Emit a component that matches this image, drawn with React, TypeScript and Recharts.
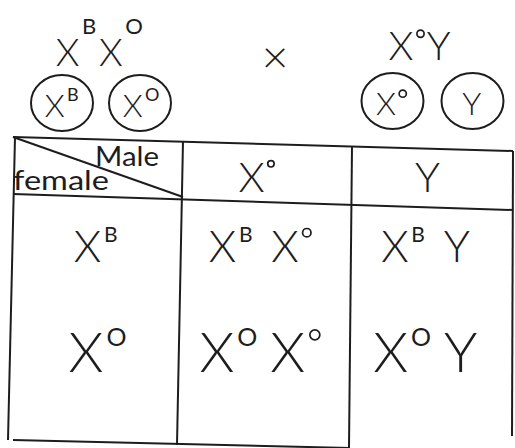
import React from 'react';
import { ScatterChart, Scatter, XAxis, YAxis, ReferenceLine } from 'recharts';

// genotypes: "X^B" = X with superscript B, "^o" = small degree circle
const femaleParent = 'X^B X^O';
const crossSign = '×';
const maleParent = 'X^oY';
const femaleGametes = ['X^B', 'X^O'];
const maleGametes = ['X^o', 'Y'];
const cornerLabels = ['Male', 'female'];
const offspring = [
  ['X^B X^o', 'X^B Y'],
  ['X^O X^o', 'X^O Y'],
];

const W = 515;
const H = 448;
const INK = '#1d1d1d';
const FONT = 'Lato, "DejaVu Sans", sans-serif';

// layout, in the diagram's own space (same as pixels)
const COL_EDGES = [13, 183, 352, 513];
const ROW_Y = { parents: 52, gametes: 103, header: 177, body: [246, 352] };
const colMid = (i: number) => (COL_EDGES[i] + COL_EDGES[i + 1]) / 2;

const TABLE_LINES: [number, number][][] = [
  [[13, 137], [513, 151]],
  [[13, 194], [513, 210]],
  [[13, 440], [350, 448]],
  [[15, 137], [8, 440]],
  [[183, 141], [177, 445]],
  [[352, 146], [349, 448]],
  [[513, 151], [512, 436]],
  [[13, 137], [183, 197]],
];

type GenoStyle = { fs: number; supFs: number; supShift: number; gap: number };

const PARENT_ST: GenoStyle = { fs: 38, supFs: 22, supShift: -4, gap: 2 };
const MALE_PARENT_ST: GenoStyle = { fs: 40, supFs: 18, supShift: 8, gap: 2 };
const GAMETE_ST: GenoStyle = { fs: 32, supFs: 18, supShift: 8, gap: 10 };
const HEADER_ST: GenoStyle = { fs: 42, supFs: 16, supShift: 10, gap: 12 };
const ROW_ST: GenoStyle[] = [
  { fs: 44, supFs: 21, supShift: 12, gap: 18 },
  { fs: 56, supFs: 25, supShift: 14, gap: 16 },
];

function parseGeno(s: string) {
  return s.split(' ').map((g) => {
    const out: { base: string; sup?: string }[] = [];
    const re = /([A-Z])(\^([A-Za-z]))?/g;
    let m;
    while ((m = re.exec(g))) out.push({ base: m[1], sup: m[3] });
    return out;
  });
}

function Geno({ cx, cy, text, st }: { cx: number; cy: number; text: string; st: GenoStyle }) {
  const cap = st.fs * 0.72;
  const top = cy - cap / 2;
  const baseLine = cy + cap / 2;
  const items: any[] = [];
  let x = 0;
  parseGeno(text).forEach((group, gi) => {
    if (gi > 0) x += st.gap;
    group.forEach((t) => {
      items.push({ kind: 'base', ch: t.base, x });
      x += st.fs * 0.64;
      if (t.sup === 'o') {
        items.push({ kind: 'deg', x: x + st.supFs * 0.35 });
        x += st.supFs * 0.7;
      } else if (t.sup) {
        items.push({ kind: 'sup', ch: t.sup, x: x + 2 });
        x += st.supFs * 0.68 + 2;
      }
    });
  });
  const x0 = cx - x / 2;
  return (
    <g fill={INK} fontFamily={FONT}>
      {items.map((it, i) => {
        if (it.kind === 'base')
          return (
            <text key={i} x={x0 + it.x} y={baseLine} fontSize={st.fs} fontWeight={300}>
              {it.ch}
            </text>
          );
        if (it.kind === 'sup')
          return (
            <text key={i} x={x0 + it.x} y={top + st.supShift} fontSize={st.supFs} fontWeight={400}>
              {it.ch}
            </text>
          );
        const r = st.supFs * 0.2;
        return (
          <circle key={i} cx={x0 + it.x} cy={top + r * 0.6} r={r} fill="none" stroke={INK} strokeWidth={1.7} />
        );
      })}
    </g>
  );
}

const GameteBubble = (p: any) => (
  <g>
    <ellipse cx={p.cx} cy={p.cy} rx={31} ry={28} fill="none" stroke={INK} strokeWidth={2} />
    <Geno cx={p.cx} cy={p.cy + 2} text={p.payload.label} st={GAMETE_ST} />
  </g>
);

export default function App() {
  const gametePts = [
    ...femaleGametes.map((g, i) => ({ x: colMid(0) + (i === 0 ? -36 : 42), y: ROW_Y.gametes, label: g })),
    ...maleGametes.map((g, i) => ({ x: colMid(2) + (i === 0 ? -40 : 40), y: ROW_Y.gametes - 2, label: g })),
  ];
  const headerPts = maleGametes.map((g, i) => ({ x: colMid(i + 1) - (i === 0 ? 10 : 4), y: ROW_Y.header, label: g }));
  const rowPts = femaleGametes.map((g, r) => [
    { x: colMid(0) - 2, y: ROW_Y.body[r], label: g },
    ...offspring[r].map((o, c) => ({ x: colMid(c + 1) - 6, y: ROW_Y.body[r], label: o })),
  ]);

  return (
    <div style={{ position: 'absolute', left: 0, top: 0, width: W, height: H, background: '#fff' }}>
      <ScatterChart width={W} height={H} margin={{ top: 0, right: 0, bottom: 0, left: 0 }}>
        <XAxis type="number" dataKey="x" domain={[0, W]} hide />
        <YAxis type="number" dataKey="y" domain={[0, H]} reversed hide />
        {TABLE_LINES.map(([a, b], i) => (
          <ReferenceLine
            key={i}
            segment={[{ x: a[0], y: a[1] }, { x: b[0], y: b[1] }]}
            stroke={INK}
            strokeWidth={2}
            ifOverflow="visible"
          />
        ))}
        <Scatter
          data={[{ x: colMid(0), y: ROW_Y.parents, label: femaleParent }]}
          isAnimationActive={false}
          shape={(p: any) => <Geno cx={p.cx} cy={p.cy} text={p.payload.label} st={PARENT_ST} />}
        />
        <Scatter
          data={[{ x: colMid(2) - 12, y: ROW_Y.parents - 6, label: maleParent }]}
          isAnimationActive={false}
          shape={(p: any) => <Geno cx={p.cx} cy={p.cy} text={p.payload.label} st={MALE_PARENT_ST} />}
        />
        <Scatter
          data={[{ x: 275, y: ROW_Y.parents + 7, label: crossSign }]}
          isAnimationActive={false}
          shape={(p: any) => (
            <text x={p.cx} y={p.cy + 14} textAnchor="middle" fontSize={46} fontWeight={300} fontFamily={FONT} fill={INK}>
              {p.payload.label}
            </text>
          )}
        />
        <Scatter data={gametePts} isAnimationActive={false} shape={GameteBubble} />
        <Scatter
          data={[
            { x: 127, y: 166, label: cornerLabels[0] },
            { x: 61, y: 190, label: cornerLabels[1] },
          ]}
          isAnimationActive={false}
          shape={(p: any) => (
            <text
              x={p.cx}
              y={p.cy}
              textAnchor="middle"
              fontSize={26}
              fontFamily={FONT}
              fill={INK}
              textLength={p.payload.label === 'Male' ? 64 : 96}
              lengthAdjust="spacingAndGlyphs"
            >
              {p.payload.label}
            </text>
          )}
        />
        <Scatter
          data={headerPts}
          isAnimationActive={false}
          shape={(p: any) => <Geno cx={p.cx} cy={p.cy} text={p.payload.label} st={HEADER_ST} />}
        />
        {rowPts.map((pts, r) => (
          <Scatter
            key={r}
            data={pts}
            isAnimationActive={false}
            shape={(p: any) => <Geno cx={p.cx} cy={p.cy} text={p.payload.label} st={ROW_ST[r]} />}
          />
        ))}
      </ScatterChart>
    </div>
  );
}
